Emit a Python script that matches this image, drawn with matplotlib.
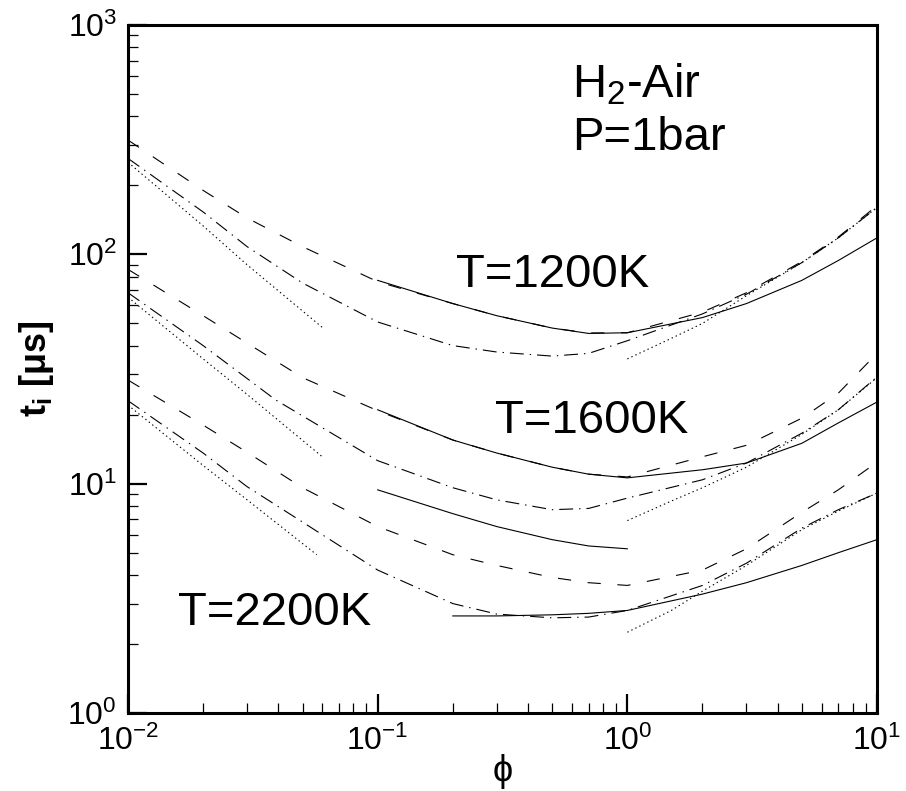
import matplotlib
matplotlib.use('Agg')
import matplotlib.pyplot as plt
import numpy as np

plt.rcParams['font.family'] = ['Liberation Sans', 'DejaVu Sans']
plt.rcParams['mathtext.fontset'] = 'custom'
plt.rcParams['mathtext.rm'] = 'Liberation Sans'
plt.rcParams['mathtext.it'] = 'Liberation Sans:italic'
plt.rcParams['mathtext.bf'] = 'Liberation Sans:bold'
plt.rcParams['lines.scale_dashes'] = False

# ---- T = 1200 K ----
phi_1200_dash = [0.01, 0.02, 0.03, 0.05, 0.1, 0.2, 0.3, 0.5, 0.7, 1, 2, 3, 5, 7, 10]
t_1200_dash = [315, 190, 144, 108, 76, 61, 54, 47.7, 45.4, 45.5, 56, 68, 93, 119, 163]
phi_1200_solid = [0.1, 0.2, 0.3, 0.5, 0.7, 1, 2, 3, 5, 7, 10]
t_1200_solid = [77, 61, 54, 47.7, 45.2, 45.5, 53, 61, 77, 94, 118]
phi_1200_dashdot = [0.01, 0.02, 0.03, 0.05, 0.1, 0.2, 0.3, 0.5, 0.7, 1, 2, 3, 5, 7, 10]
t_1200_dashdot = [262, 153, 108, 75, 50.7, 40, 37.5, 36, 37, 42, 55, 67, 92, 118, 160]
phi_1200_lean = [0.01, 0.02, 0.03, 0.06]
t_1200_lean = [252, 133, 90, 48]
phi_1200_rich = [1, 1.5, 2, 3, 5, 7, 10]
t_1200_rich = [35, 43, 50, 66, 92, 118, 160]

# ---- T = 1600 K ----
phi_1600_dash = [0.01, 0.02, 0.03, 0.05, 0.1, 0.2, 0.3, 0.5, 0.7, 1, 2, 3, 5, 7, 10]
t_1600_dash = [86, 54, 41, 29, 20.8, 15.5, 13.6, 11.8, 11, 10.7, 13.1, 14.7, 19.3, 24.8, 37]
phi_1600_solid = [0.1, 0.2, 0.3, 0.5, 0.7, 1, 2, 3, 5, 7, 10]
t_1600_solid = [21, 15.5, 13.6, 11.8, 11, 10.6, 11.5, 12.3, 15, 18.4, 22.7]
phi_1600_dashdot = [0.01, 0.02, 0.039, 0.1, 0.2, 0.3, 0.5, 0.7, 1, 2, 3, 5, 7, 10]
t_1600_dashdot = [68, 40, 23.2, 12.6, 9.6, 8.5, 7.7, 7.8, 8.65, 10.4, 12.3, 16.6, 21, 29.2]
phi_1600_lean = [0.01, 0.02, 0.03, 0.06]
t_1600_lean = [65, 35, 24.5, 13.1]
phi_1600_rich = [1, 1.5, 2, 3, 5, 7, 10]
t_1600_rich = [6.9, 8.4, 9.6, 11.8, 16.4, 21, 29]

# ---- T = 2200 K ----
phi_2200_dash = [0.01, 0.02, 0.03, 0.05, 0.1, 0.2, 0.3, 0.5, 0.7, 1, 2, 3, 5, 7, 10]
t_2200_dash = [28.3, 18, 13.7, 9.6, 6.5, 4.9, 4.4, 3.9, 3.7, 3.6, 4.2, 5.2, 7.5, 9.4, 12.4]
phi_2200_solid_a = [0.1, 0.2, 0.3, 0.5, 0.7, 1]
t_2200_solid_a = [9.4, 7.4, 6.5, 5.7, 5.35, 5.2]
phi_2200_solid_b = [0.2, 0.3, 0.5, 0.7, 1, 2, 3, 5, 7, 10]
t_2200_solid_b = [2.65, 2.65, 2.68, 2.72, 2.8, 3.3, 3.7, 4.4, 5.0, 5.7]
phi_2200_dashdot = [0.01, 0.02, 0.03, 0.05, 0.1, 0.2, 0.3, 0.5, 0.7, 1, 2, 3, 5, 7, 10]
t_2200_dashdot = [23, 13.6, 9.7, 6.8, 4.2, 3.0, 2.7, 2.6, 2.62, 2.8, 3.6, 4.5, 6.4, 7.7, 9.1]
phi_2200_lean = [0.01, 0.02, 0.03, 0.057]
t_2200_lean = [22, 12, 8.5, 4.9]
phi_2200_rich = [1, 1.5, 2, 3, 5, 7, 10]
t_2200_rich = [2.25, 2.8, 3.4, 4.4, 6.3, 7.6, 9.1]

DASH = (0, (9.5, 12))
DASHDOT = (0, (10, 4.3, 1.0, 4.3))
DOT = (0, (1.0, 2.2))
LW = 0.8

fig = plt.figure(figsize=(9.06, 7.91), dpi=100)
ax = fig.add_axes([128 / 906, 1 - 713 / 791, 749 / 906, 688 / 791])

groups = [
    (phi_1200_dash, t_1200_dash, DASH),
    (phi_1200_solid, t_1200_solid, '-'),
    (phi_1200_dashdot, t_1200_dashdot, DASHDOT),
    (phi_1200_lean, t_1200_lean, DOT),
    (phi_1200_rich, t_1200_rich, DOT),
    (phi_1600_dash, t_1600_dash, DASH),
    (phi_1600_solid, t_1600_solid, '-'),
    (phi_1600_dashdot, t_1600_dashdot, DASHDOT),
    (phi_1600_lean, t_1600_lean, DOT),
    (phi_1600_rich, t_1600_rich, DOT),
    (phi_2200_dash, t_2200_dash, DASH),
    (phi_2200_solid_a, t_2200_solid_a, '-'),
    (phi_2200_solid_b, t_2200_solid_b, '-'),
    (phi_2200_dashdot, t_2200_dashdot, DASHDOT),
    (phi_2200_lean, t_2200_lean, DOT),
    (phi_2200_rich, t_2200_rich, DOT),
]
for x, y, ls in groups:
    ax.plot(x, y, color='black', linestyle=ls, linewidth=LW)

ax.set_xscale('log')
ax.set_yscale('log')
ax.set_xlim(1e-2, 1e1)
ax.set_ylim(1e0, 1e3)

for s in ax.spines.values():
    s.set_linewidth(2.2)

ax.tick_params(which='both', direction='in', top=False, right=False, labelsize=23)
ax.tick_params(axis='x', pad=9)
ax.tick_params(axis='y', pad=8)
ax.tick_params(which='major', length=14, width=1.6)
ax.tick_params(which='minor', length=7, width=0.9)

ax.set_xlabel('ϕ', fontsize=26, labelpad=-2)
ax.set_ylabel(r'$\mathbf{t_i}$ [$\mathbf{\mu}$s]', fontsize=26, fontweight='bold', labelpad=8)

ax.text(0.6, 485, r'H$_2$-Air', fontsize=34, ha='left', va='baseline')
ax.text(0.6, 285, 'P=1bar', fontsize=34, ha='left', va='baseline')
ax.text(0.206, 72, 'T=1200K', fontsize=34, ha='left', va='baseline')
ax.text(0.295, 16.6, 'T=1600K', fontsize=34, ha='left', va='baseline')
ax.text(0.0159, 2.42, 'T=2200K', fontsize=34, ha='left', va='baseline')

fig.savefig('out.png', dpi=100)
